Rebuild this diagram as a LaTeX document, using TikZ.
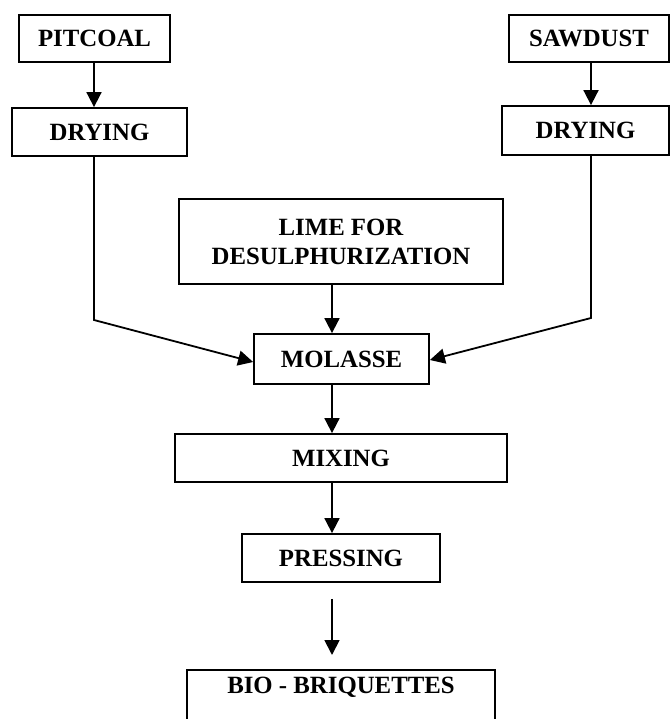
\documentclass[tikz,border=0pt]{standalone}
\usepackage{fontspec}
\setmainfont{Liberation Serif}
\usetikzlibrary{arrows.meta}
\usetikzlibrary{positioning}
\tikzset{
box/.style={draw,
  line width=1.8pt,
  inner sep=0pt,
  align=center,
  font=\fontsize{24.8}{29}\selectfont\bfseries},
flow/.style={line width=1.8pt,
  -{Triangle[length=15pt,width=15pt]}},
}
\begin{document}
\begin{tikzpicture}[x=1pt,y=-1pt]
  \useasboundingbox (0,0) rectangle (670,719);

  % Nodes
  \node [box, minimum width=151, minimum height=47] (pitcoal) at (94.5,38.5) {PITCOAL};
  \node [box, minimum width=175, minimum height=48] (dryl) at (99.5,132) {DRYING};
  \node [box, minimum width=160, minimum height=47] (sawdust) at (589,38.5) {SAWDUST};
  \node [box, minimum width=167, minimum height=49] (dryr) at (585.5,130.5) {DRYING};
  \node [box, minimum width=324, minimum height=85] (lime) at (341,241.5) {LIME FOR\\DESULPHURIZATION};
  \node [box, minimum width=175, minimum height=50] (molasse) at (341.5,359) {MOLASSE};
  \node [box, minimum width=332, minimum height=48] (mixing) at (341,458) {MIXING};
  \node [box, minimum width=198, minimum height=48] (pressing) at (341,558) {PRESSING};
  \node [box, minimum width=308, text height=24pt, text depth=44pt, anchor=north] (bio) at (341,669) {BIO - BRIQUETTES};

  % Bend points and main axis
  \coordinate (axis) at (332,0);
  \coordinate (lbend) at (94,320);
  \coordinate (rbend) at (591,318);

  % Edges
  \draw [flow] (pitcoal.south -| lbend) -- (dryl.north -| lbend);
  \draw [flow] (sawdust.south -| rbend) -- (dryr.north -| rbend);
  \draw [flow] (dryl.south -| lbend) -- (lbend) -- ([yshift=-3pt]molasse.west);
  \draw [flow] (dryr.south -| rbend) -- (rbend) -- ([yshift=-1pt]molasse.east);
  \draw [flow] (lime.south -| axis) -- (molasse.north -| axis);
  \draw [flow] (molasse.south -| axis) -- (mixing.north -| axis);
  \draw [flow] (mixing.south -| axis) -- (pressing.north -| axis);
  \draw [flow, shorten <=16pt, shorten >=14pt] (pressing.south -| axis) -- (bio.north -| axis);
\end{tikzpicture}
\end{document}
